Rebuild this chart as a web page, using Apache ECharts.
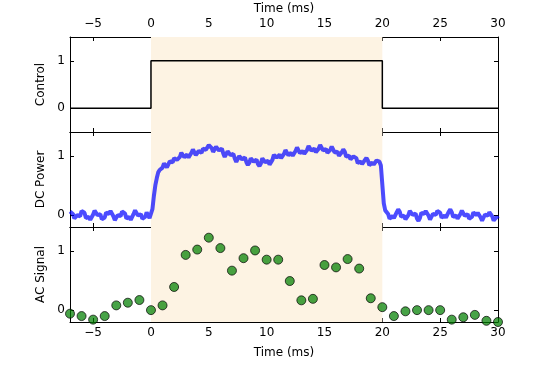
<!DOCTYPE html>
<html>
<head>
<meta charset="utf-8">
<script src="https://cdn.jsdelivr.net/npm/echarts@6/dist/echarts.min.js"></script>
<style>
  html, body { margin: 0; padding: 0; background: #fff; }
  #chart { width: 554px; height: 369px; }
</style>
</head>
<body>
<div id="chart"></div>
<script>
// tick labels shared by all panels
var timeTicks = [-5, 0, 5, 10, 15, 20, 25, 30];
var levelTicks = [0, 1];

// control pulse (step)
var controlTime = [-7, 0, 0, 20, 20, 30];
var controlValue = [0, 0, 1, 1, 0, 0];

// DC power trace, one sample every 0.125 ms starting at -7 ms
var dcStart = -7;
var dcStep = 0.125;
var dcValue = [
  0.06, 0.08, 0.02, -0.055, -0.05, 0.0, -0.03, -0.02, 0.07, 0.095,
  0.04, -0.05, -0.06, -0.03, -0.08, -0.075, 0.01, 0.075, 0.06, 0.0,
  0.02, 0.015, -0.07, -0.095, -0.04, 0.045, 0.05, 0.02, 0.07, 0.065,
  -0.02, -0.085, -0.07, 0.0, -0.01, -0.015, 0.06, 0.085, 0.03, -0.055,
  -0.06, -0.03, -0.08, -0.07, 0.02, 0.08, 0.06, -0.005, 0.01, 0.015,
  -0.06, -0.085, -0.03, 0.045, 0.04, -0.05, -0.06, 0.10, 0.32, 0.50,
  0.62, 0.72, 0.76, 0.74, 0.80, 0.87, 0.86, 0.805, 0.83, 0.905,
  0.90, 0.89, 0.96, 0.985, 0.93, 0.915, 0.98, 1.05, 1.04, 0.975,
  0.99, 1.02, 0.97, 0.97, 1.05, 1.105, 1.08, 1.01, 1.02, 1.08,
  1.06, 1.05, 1.12, 1.15, 1.10, 1.10, 1.18, 1.195, 1.13, 1.065,
  1.08, 1.15, 1.14, 1.09, 1.12, 1.12, 1.04, 0.98, 1.00, 1.075,
  1.07, 1.01, 1.03, 1.03, 0.95, 0.895, 0.92, 0.995, 0.99, 0.94,
  0.97, 0.97, 0.89, 0.845, 0.88, 0.955, 0.95, 0.90, 0.93, 0.935,
  0.86, 0.825, 0.87, 0.955, 0.96, 0.89, 0.90, 0.915, 0.85, 0.85,
  0.93, 1.015, 1.02, 0.97, 1.00, 1.02, 0.96, 0.955, 1.03, 1.095,
  1.08, 1.01, 1.02, 1.05, 1.00, 1.00, 1.08, 1.14, 1.12, 1.045,
  1.05, 1.08, 1.03, 1.025, 1.10, 1.165, 1.15, 1.085, 1.10, 1.12,
  1.06, 1.05, 1.12, 1.18, 1.16, 1.09, 1.10, 1.115, 1.05, 1.035,
  1.10, 1.155, 1.13, 1.055, 1.06, 1.07, 1.00, 0.99, 1.06, 1.105,
  1.07, 0.985, 0.98, 1.00, 0.94, 0.925, 0.99, 1.015, 0.96, 0.875,
  0.87, 0.905, 0.86, 0.855, 0.93, 0.965, 0.92, 0.84, 0.84, 0.885,
  0.85, 0.845, 0.92, 0.95, 0.90, 0.835, 0.85, 0.20, 0.08, 0.09,
  0.02, -0.06, -0.06, -0.015, -0.05, -0.04, 0.05, 0.095, 0.06, -0.025,
  -0.03, -0.01, -0.07, -0.075, 0.00, 0.07, 0.06, 0.005, 0.03, 0.025,
  -0.06, -0.095, -0.05, 0.04, 0.05, 0.02, 0.07, 0.07, -0.01, -0.075,
  -0.06, 0.02, 0.02, 0.005, 0.07, 0.095, 0.04, -0.045, -0.05, -0.005,
  -0.04, -0.03, 0.06, 0.095, 0.05, -0.03, -0.03, -0.005, -0.06, -0.06,
  0.02, 0.075, 0.05, -0.01, 0.01, 0.015, -0.06, -0.085, -0.03, 0.045,
  0.04, 0.0, 0.04, 0.04, -0.04, -0.095, -0.07, 0.01, 0.01, -0.01,
  0.05, 0.055, -0.02, -0.09, -0.08, -0.03, -0.06
];

// AC signal, one point per ms
var acTime = [-7, -6, -5, -4, -3, -2, -1, 0, 1, 2, 3, 4, 5, 6, 7, 8, 9, 10, 11,
  12, 13, 14, 15, 16, 17, 18, 19, 20, 21, 22, 23, 24, 25, 26, 27, 28, 29, 30];
var acValue = [-0.06, -0.10, -0.16, -0.10, 0.08, 0.125, 0.17, 0.00, 0.08, 0.39,
  0.93, 1.02, 1.22, 1.045, 0.665, 0.875, 1.005, 0.85, 0.85, 0.49,
  0.165, 0.19, 0.76, 0.72, 0.86, 0.70, 0.20, 0.05, -0.10, -0.02,
  0.00, 0.00, 0.00, -0.16, -0.12, -0.08, -0.18, -0.20];

// pulse window shading
var pulseWindow = [0, 20];

var myChart = echarts.init(document.getElementById('chart'), null, { renderer: 'canvas' });

var font = 'DejaVu Sans';
var panelTop = [37, 132, 227];
var panelH = 95;

function minusSign(v) {
  return String(v).replace('-', '\u2212');
}

function xAxisFor(grid, position, showLabel, name) {
  return {
    type: 'value', gridIndex: grid, position: position,
    min: -7, max: 30,
    name: name || '', nameLocation: 'middle',
    nameGap: position === 'top' ? 22 : 25,
    nameTextStyle: { color: '#000', fontSize: 12, fontFamily: font },
    splitLine: { show: false },
    axisLine: { show: true, onZero: false, lineStyle: { color: '#000', width: 1 } },
    axisTick: { show: true, inside: true, length: 4, customValues: timeTicks, lineStyle: { color: '#000' } },
    axisLabel: {
      show: showLabel, customValues: timeTicks, margin: position === 'top' ? 7 : 5,
      color: '#000', fontSize: 12, fontFamily: font, formatter: minusSign
    }
  };
}

function yAxisFor(grid, position, min, max, name) {
  return {
    type: 'value', gridIndex: grid, position: position,
    min: min, max: max,
    name: name || '', nameLocation: 'middle', nameGap: 20, nameRotate: 90,
    nameTextStyle: { color: '#000', fontSize: 12, fontFamily: font },
    splitLine: { show: false },
    axisLine: { show: true, onZero: false, lineStyle: { color: '#000', width: 1 } },
    axisTick: { show: true, inside: true, length: 4, customValues: levelTicks, lineStyle: { color: '#000' } },
    axisLabel: {
      show: position === 'left', customValues: levelTicks, margin: 5,
      color: '#000', fontSize: 12, fontFamily: font
    }
  };
}

var shade = {
  silent: true,
  itemStyle: { color: '#fdf3e3' },
  data: [[{ xAxis: pulseWindow[0] }, { xAxis: pulseWindow[1] }]]
};

var controlData = controlTime.map(function (t, i) { return [t, controlValue[i]]; });
var dcData = dcValue.map(function (v, i) { return [dcStart + i * dcStep, v]; });
var acData = acTime.map(function (t, i) { return [t, acValue[i]]; });

var option = {
  animation: false,
  textStyle: { fontFamily: font },
  grid: panelTop.map(function (top) {
    return { left: 70, top: top, width: 428, height: panelH };
  }),
  xAxis: [
    xAxisFor(0, 'top', true, 'Time (ms)'), xAxisFor(0, 'bottom', false),
    xAxisFor(1, 'top', false), xAxisFor(1, 'bottom', false),
    xAxisFor(2, 'top', false), xAxisFor(2, 'bottom', true, 'Time (ms)')
  ],
  yAxis: [
    yAxisFor(0, 'left', -0.5, 1.5, 'Control'), yAxisFor(0, 'right', -0.5, 1.5),
    yAxisFor(1, 'left', -0.2, 1.4, 'DC Power'), yAxisFor(1, 'right', -0.2, 1.4),
    yAxisFor(2, 'left', -0.2, 1.4, 'AC Signal'), yAxisFor(2, 'right', -0.2, 1.4)
  ],
  series: [
    {
      type: 'line', xAxisIndex: 0, yAxisIndex: 0, data: controlData,
      symbol: 'none', lineStyle: { color: '#000', width: 1.5 },
      markArea: shade
    },
    {
      type: 'line', xAxisIndex: 2, yAxisIndex: 2, data: dcData,
      symbol: 'none', lineStyle: { color: 'rgba(0,0,255,0.7)', width: 4 },
      markArea: shade
    },
    {
      type: 'scatter', xAxisIndex: 4, yAxisIndex: 4, data: acData,
      symbolSize: 9, clip: true,
      itemStyle: { color: 'rgba(0,128,0,0.72)', borderColor: 'rgba(0,0,0,0.7)', borderWidth: 1, opacity: 1 },
      markArea: shade
    }
  ]
};

myChart.setOption(option);
window.addEventListener('resize', function () {
  myChart.resize();
});
</script>
</body>
</html>
